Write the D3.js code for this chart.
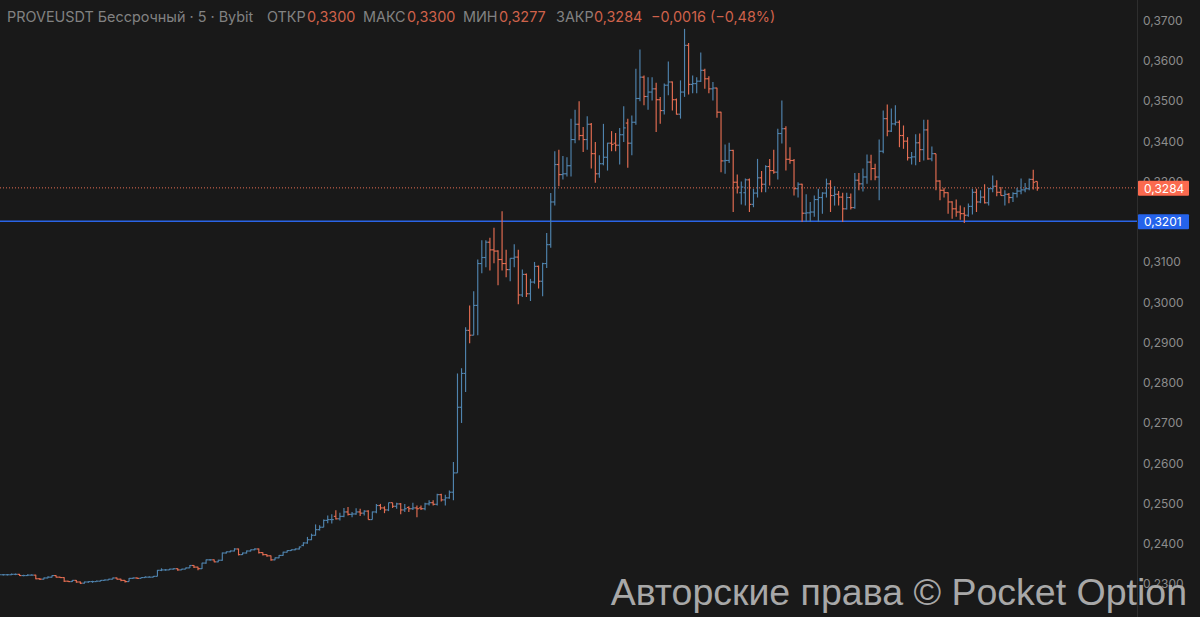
<!DOCTYPE html>
<html lang='ru'>

<head>
    <meta charset='utf-8'>
    <title>PROVEUSDT</title>
    <style>
        html, body {
            margin: 0;
            padding: 0;
            background-color: #191919;
            overflow: hidden;
        }

        svg {
            display: block;
            font-family: Inter, 'Noto Sans', sans-serif;
        }
    </style>
    <script src='https://d3js.org/d3.v7.min.js' charset='utf-8'></script>
</head>

<body>
    <div id='chart'></div>
    <script type="text/javascript">
        const WIDTH = 1200;
        const HEIGHT = 617;

        const opens = [
            .2323, .2323, .2323, .2323, .2324, .2324, .2321, .2321, .2322,
            .2322, .2313, .2312, .2315, .2317, .2321, .2317, .2316, .2307, .2306,
            .2309, .2305, .2302, .2305, .2306, .2306, .2307, .2309, .2310, .2312,
            .2315, .2312, .2309, .2306, .2314, .2315, .2314, .2316, .2317, .2317,
            .2319, .2334, .2335, .2335, .2337, .2338, .2335, .2337, .2340, .2346,
            .2342, .2338, .2352, .2360, .2360, .2355, .2359, .2377, .2380, .2382,
            .2387, .2373, .2377, .2382, .2385, .2387, .2378, .2373, .2370, .2360,
            .2365, .2371, .2379, .2383, .2385, .2387,
            .2396, .2402, .2410, .2421, .2435, .2441, .2458, .2460, .2468, .2462,
            .2468, .2479, .2473, .2474, .2479, .2476, .2481, .2460, .2479, .2495,
            .2489, .2484, .2502, .2493, .2499, .2484, .2490, .2487, .2489, .2489,
            .2487, .2499, .2502, .2498, .2522, .2509, .2514, .2528,
            .2576, .2739, .2823, .2930, .2918, .2992, .3096, .3111, .3149, .3130,
            .3127, .3106, .3096, .3081, .3109, .3112, .3018, .3069, .3021, .3050,
            .3089, .3052, .3096, .3143,
            .3249, .3342, .3317, .3319, .3339, .3404, .3442, .3414, .3404, .3442,
            .3369, .3319, .3344, .3360, .3395, .3395, .3390, .3416, .3445, .3395,
            .3447, .3506, .3559, .3511, .3522, .3530, .3503, .3476, .3539, .3547,
            .3503, .3467, .3522, .3638, .3541, .3543, .3549, .3576, .3555, .3530,
            .3532, .3472, .3351, .3352,
            .3377, .3298, .3272, .3272, .3304, .3243, .3271, .3309, .3293, .3337,
            .3327, .3323, .3419, .3431, .3355, .3352, .3282, .3293, .3221, .3222,
            .3224, .3255, .3260, .3271, .3294, .3265, .3268, .3261, .3232, .3260,
            .3235, .3303, .3294, .3311, .3348, .3332, .3311, .3375, .3456, .3425,
            .3443, .3447, .3414, .3400, .3359, .3361, .3396, .3379, .3428, .3356,
            .3369, .3301, .3278, .3272, .3249, .3232, .3224, .3220, .3216, .3238,
            .3273, .3249, .3261, .3247, .3282, .3288, .3273, .3265, .3268, .3260,
            .3270, .3276, .3279, .3282, .3305, .3300
        ];
        const highs = [
            .2325, .2325, .2325, .2326, .2326, .2325, .2323, .2324, .2324,
            .2323, .2314, .2316, .2319, .2322, .2322, .2318, .2317, .2308, .2310,
            .2310, .2306, .2306, .2307, .2308, .2309, .2310, .2311, .2313, .2316,
            .2316, .2313, .2310, .2315, .2316, .2316, .2317, .2319, .2319, .2320,
            .2335, .2339, .2337, .2338, .2339, .2339, .2338, .2341, .2347, .2347,
            .2343, .2353, .2361, .2362, .2361, .2360, .2378, .2381, .2383, .2389,
            .2388, .2378, .2383, .2386, .2389, .2388, .2379, .2374, .2371, .2366,
            .2372, .2380, .2384, .2386, .2388, .2393,
            .2404, .2417, .2425, .2448, .2446, .2460, .2470, .2473, .2483, .2477,
            .2489, .2491, .2479, .2488, .2487, .2483, .2483, .2480, .2499, .2499,
            .2493, .2502, .2502, .2502, .2501, .2499, .2493, .2502, .2495, .2495,
            .2502, .2508, .2508, .2524, .2524, .2522, .2532, .2603,
            .2823, .2836, .2938, .2992, .3027, .3106, .3154, .3154, .3160, .3185,
            .3129, .3226, .3130, .3109, .3144, .3130, .3081, .3071, .3058, .3100,
            .3091, .3098, .3172, .3271,
            .3375, .3379, .3363, .3360, .3456, .3478, .3499, .3435, .3462, .3445,
            .3398, .3365, .3443, .3396, .3425, .3420, .3433, .3487, .3456, .3464,
            .3580, .3628, .3563, .3559, .3559, .3545, .3510, .3543, .3598, .3548,
            .3506, .3551, .3679, .3644, .3563, .3559, .3620, .3580, .3561, .3547,
            .3533, .3473, .3392, .3396,
            .3379, .3317, .3300, .3307, .3307, .3282, .3356, .3326, .3340, .3356,
            .3379, .3431, .3501, .3437, .3385, .3356, .3298, .3294, .3268, .3249,
            .3265, .3282, .3273, .3307, .3303, .3288, .3276, .3272, .3272, .3270,
            .3321, .3321, .3332, .3367, .3366, .3344, .3404, .3476, .3491, .3481,
            .3489, .3452, .3439, .3410, .3373, .3417, .3419, .3453, .3453, .3387,
            .3369, .3303, .3284, .3273, .3251, .3255, .3240, .3236, .3245, .3282,
            .3282, .3278, .3293, .3284, .3315, .3303, .3286, .3278, .3271, .3273,
            .3284, .3307, .3296, .3307, .3329, .3300
        ];
        const lows = [
            .2321, .2321, .2321, .2322, .2322, .2320, .2319, .2320, .2321,
            .2312, .2310, .2311, .2314, .2316, .2316, .2315, .2305, .2305, .2305,
            .2303, .2300, .2301, .2303, .2303, .2306, .2307, .2309, .2310, .2312,
            .2311, .2307, .2304, .2306, .2313, .2313, .2314, .2316, .2316, .2317,
            .2319, .2332, .2333, .2335, .2336, .2333, .2335, .2337, .2340, .2340,
            .2334, .2337, .2350, .2358, .2354, .2354, .2358, .2376, .2379, .2381,
            .2371, .2372, .2376, .2381, .2384, .2376, .2371, .2368, .2358, .2359,
            .2364, .2370, .2378, .2382, .2384, .2386,
            .2394, .2400, .2409, .2420, .2433, .2441, .2451, .2450, .2460, .2458,
            .2466, .2470, .2466, .2472, .2469, .2470, .2460, .2460, .2476, .2484,
            .2476, .2481, .2489, .2487, .2473, .2479, .2479, .2484, .2466, .2484,
            .2483, .2495, .2495, .2495, .2505, .2495, .2512, .2508,
            .2576, .2700, .2777, .2898, .2918, .2918, .3072, .3087, .3079, .3097,
            .3042, .3079, .3062, .3052, .3087, .2995, .3013, .3013, .3003, .3046,
            .3034, .3015, .3085, .3135,
            .3240, .3288, .3305, .3312, .3312, .3395, .3402, .3373, .3379, .3332,
            .3297, .3309, .3340, .3327, .3375, .3375, .3342, .3398, .3334, .3365,
            .3441, .3499, .3489, .3478, .3501, .3423, .3443, .3466, .3514, .3476,
            .3466, .3456, .3510, .3516, .3519, .3519, .3547, .3530, .3519, .3501,
            .3458, .3323, .3319, .3346,
            .3224, .3270, .3243, .3240, .3224, .3236, .3260, .3273, .3273, .3290,
            .3319, .3305, .3394, .3327, .3344, .3265, .3260, .3199, .3199, .3199,
            .3212, .3199, .3220, .3260, .3224, .3240, .3240, .3199, .3230, .3230,
            .3232, .3278, .3275, .3294, .3303, .3303, .3253, .3370, .3412, .3423,
            .3439, .3385, .3381, .3352, .3342, .3340, .3348, .3352, .3354, .3350,
            .3278, .3253, .3260, .3220, .3207, .3212, .3205, .3197, .3212, .3218,
            .3224, .3246, .3245, .3240, .3273, .3263, .3265, .3240, .3246, .3249,
            .3260, .3268, .3273, .3278, .3280, .3277
        ];
        const closes = [
            .2323, .2323, .2323, .2324, .2324, .2321, .2321, .2322, .2322,
            .2313, .2312, .2315, .2317, .2321, .2317, .2316, .2307, .2306, .2309,
            .2305, .2302, .2305, .2306, .2306, .2307, .2309, .2310, .2312, .2315,
            .2312, .2309, .2306, .2314, .2315, .2314, .2316, .2317, .2317, .2319,
            .2334, .2335, .2335, .2337, .2338, .2335, .2337, .2340, .2346, .2342,
            .2338, .2352, .2360, .2360, .2355, .2359, .2377, .2380, .2382, .2387,
            .2373, .2377, .2382, .2385, .2387, .2378, .2373, .2370, .2360, .2365,
            .2371, .2379, .2383, .2385, .2387, .2392,
            .2402, .2410, .2421, .2435, .2441, .2458, .2460, .2460, .2462, .2468,
            .2479, .2473, .2474, .2479, .2476, .2481, .2460, .2479, .2495, .2489,
            .2484, .2502, .2493, .2499, .2484, .2487, .2487, .2489, .2487, .2487,
            .2499, .2502, .2498, .2522, .2509, .2514, .2528, .2576,
            .2739, .2823, .2930, .2918, .2992, .3096, .3111, .3149, .3130, .3127,
            .3106, .3096, .3081, .3109, .3112, .3018, .3069, .3021, .3050, .3089,
            .3052, .3096, .3143, .3249,
            .3342, .3317, .3319, .3339, .3404, .3442, .3414, .3404, .3442, .3369,
            .3319, .3344, .3360, .3395, .3392, .3390, .3416, .3433, .3395, .3447,
            .3506, .3559, .3511, .3522, .3530, .3503, .3476, .3539, .3547, .3503,
            .3467, .3522, .3638, .3541, .3543, .3549, .3576, .3555, .3530, .3532,
            .3472, .3351, .3352, .3377,
            .3298, .3286, .3286, .3304, .3243, .3271, .3309, .3293, .3337, .3327,
            .3323, .3419, .3431, .3355, .3352, .3282, .3293, .3221, .3222, .3224,
            .3255, .3260, .3271, .3294, .3265, .3268, .3261, .3232, .3260, .3235,
            .3303, .3294, .3311, .3348, .3332, .3311, .3375, .3456, .3425, .3443,
            .3447, .3414, .3400, .3359, .3361, .3396, .3379, .3428, .3356, .3369,
            .3301, .3278, .3272, .3249, .3232, .3224, .3220, .3216, .3238, .3273,
            .3249, .3261, .3247, .3282, .3288, .3273, .3265, .3268, .3260, .3270,
            .3276, .3279, .3282, .3305, .3298, .3284
        ];

        const priceTicks = [.37, .36, .35, .34, .33, .32, .31, .30, .29, .28, .27, .26, .25, .24, .23];
        const headerParts = [
            ['PROVEUSDT Бессрочный · 5 · Bybit', 'gray', 7],
            ['ОТКР', 'gray', 267],
            ['0,3300', 'red', 307],
            ['МАКС', 'gray', 363],
            ['0,3300', 'red', 407],
            ['МИН', 'gray', 463],
            ['0,3277', 'red', 499],
            ['ЗАКР', 'gray', 556],
            ['0,3284', 'red', 594],
            ['−0,0016 (−0,48%)', 'red', 651]
        ];
        const lastPrice = .3284;
        const levelPrice = .3201;
        const watermark = 'Авторские права © Pocket Option';

        const BLUE = '#4f83ad';
        const RED = '#e46d52';
        const PLOT_RIGHT = 1137;

        var x = d3.scaleLinear().domain([0, opens.length - 1]).range([-0.7, 1037.3]);
        var y = d3.scaleLinear().domain([.37, .23]).range([20.4, 584]);
        var fmt = function (v) {
            return d3.format('.4f')(v).replace('.', ',');
        };

        var svg = d3.select('#chart')
            .append('svg')
            .attr('width', WIDTH)
            .attr('height', HEIGHT);

        // level lines sit under the bars
        svg.append('line')
            .attr('x1', 0)
            .attr('x2', PLOT_RIGHT)
            .attr('y1', y(levelPrice))
            .attr('y2', y(levelPrice))
            .attr('stroke', '#2a64e6')
            .attr('stroke-width', 1.5);

        svg.append('line')
            .attr('x1', 0)
            .attr('x2', PLOT_RIGHT)
            .attr('y1', y(lastPrice))
            .attr('y2', y(lastPrice))
            .attr('stroke', RED)
            .attr('stroke-width', 1)
            .attr('stroke-dasharray', '1 2');

        var bars = svg.append('g')
            .selectAll('g')
            .data(d3.range(opens.length))
            .enter()
            .append('g')
            .attr('stroke', function (i) {
                return closes[i] >= opens[i] ? BLUE : RED;
            })
            .attr('stroke-width', 1.15);

        bars.append('line')
            .attr('x1', function (i) { return x(i); })
            .attr('x2', function (i) { return x(i); })
            .attr('y1', function (i) { return y(highs[i]); })
            .attr('y2', function (i) { return y(lows[i]); });

        bars.append('line')
            .attr('x1', function (i) { return x(i) - 2; })
            .attr('x2', function (i) { return x(i); })
            .attr('y1', function (i) { return y(opens[i]); })
            .attr('y2', function (i) { return y(opens[i]); });

        bars.append('line')
            .attr('x1', function (i) { return x(i); })
            .attr('x2', function (i) { return x(i) + 2; })
            .attr('y1', function (i) { return y(closes[i]); })
            .attr('y2', function (i) { return y(closes[i]); });

        // price scale
        var axis = d3.axisRight(y)
            .tickValues(priceTicks)
            .tickSize(0)
            .tickPadding(6)
            .tickFormat(fmt);

        var axisG = svg.append('g')
            .attr('transform', 'translate(' + PLOT_RIGHT + ',0)')
            .call(axis);

        axisG.select('.domain')
            .attr('stroke', '#2e2e2e')
            .attr('d', 'M0.5,0V' + HEIGHT);

        axisG.selectAll('text')
            .attr('fill', '#8c8c8c')
            .attr('font-size', 12)
            .attr('font-family', 'Inter, sans-serif');

        // price labels on the scale
        [[lastPrice, '#fb6a4f'], [levelPrice, '#2563eb']].forEach(function (d) {
            svg.append('rect')
                .attr('x', PLOT_RIGHT + 1)
                .attr('y', y(d[0]) - 7)
                .attr('width', 51)
                .attr('height', 15)
                .attr('rx', 1)
                .attr('fill', d[1]);
            svg.append('text')
                .attr('x', PLOT_RIGHT + 7)
                .attr('y', y(d[0]) + 5)
                .attr('font-size', 12)
                .attr('fill', '#ffffff')
                .text(fmt(d[0]));
        });

        // header
        svg.append('g')
            .selectAll('text')
            .data(headerParts)
            .enter()
            .append('text')
            .attr('x', function (d) { return d[2]; })
            .attr('y', 21.5)
            .attr('font-size', 14.4)
            .attr('fill', function (d) {
                return d[1] === 'red' ? '#cf624b' : '#828282';
            })
            .text(function (d) { return d[0]; });

        svg.append('text')
            .attr('x', 1187)
            .attr('y', 605)
            .attr('text-anchor', 'end')
            .attr('font-family', 'Liberation Sans, Arial, sans-serif')
            .attr('font-size', 37.5)
            .attr('fill', '#a8a8a8')
            .text(watermark);
    </script>
</body>

</html>
